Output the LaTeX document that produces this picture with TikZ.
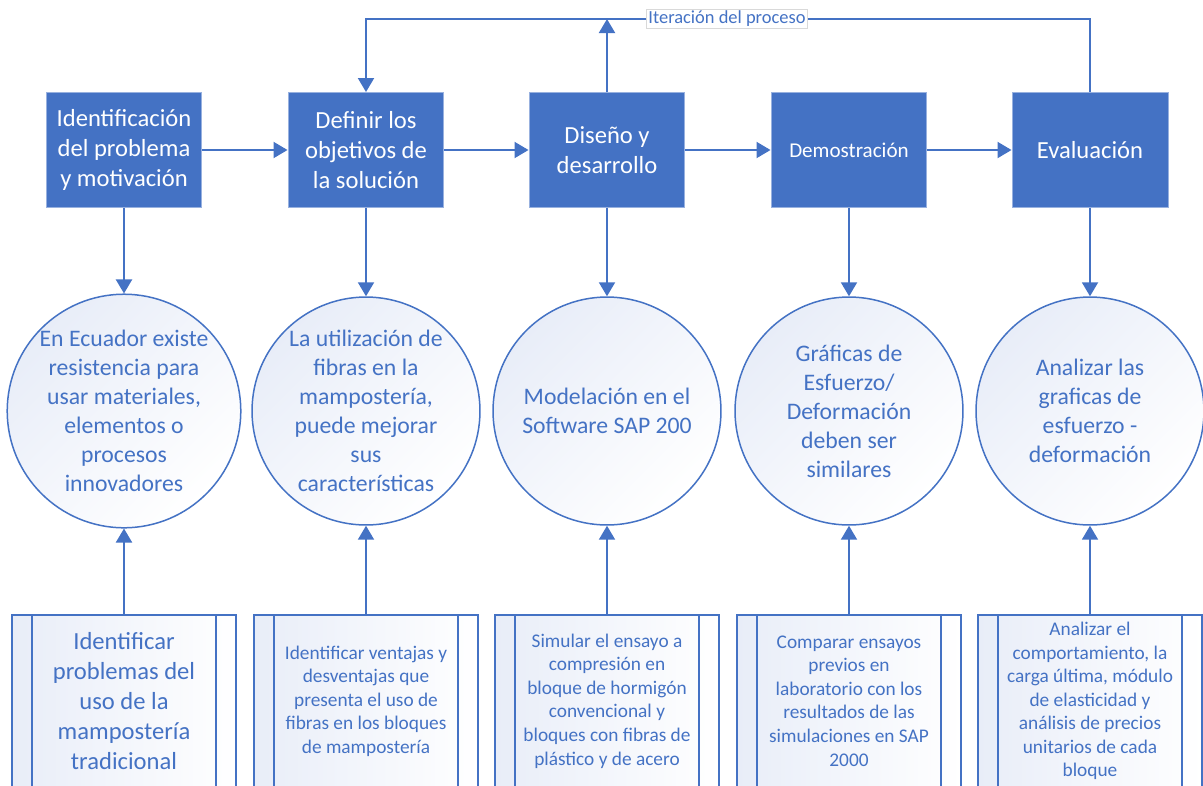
\documentclass[tikz,border=0pt]{standalone}
\usepackage{fontspec}
\setmainfont{Carlito}
\usetikzlibrary{arrows.meta,calc}
\definecolor{azul}{HTML}{4472C4}
\definecolor{azulclaro}{HTML}{E8EDF8}

\tikzset{
    linea/.style={draw=azul, line width=0.04cm},
    flecha/.style={linea, -{Triangle[length=0.28cm, width=0.32cm]}},
    paso/.style={draw=azul!55!white, line width=0.02cm, fill=azul, rectangle, minimum width=3.12cm, minimum height=2.3cm, text=white, align=center, font=\fontsize{14}{17}\selectfont},
    meta/.style={draw=azul, line width=0.03cm, circle, minimum size=4.56cm, inner sep=0pt, top color=azulclaro, bottom color=white, shading angle=45, text=azul, align=center, font=\fontsize{13.5}{16.5}\selectfont},
    tarea/.style={linea, rectangle, minimum width=4.5cm, minimum height=3.44cm, inner sep=0pt, left color=azulclaro, right color=white, text=azul, align=center, font=\fontsize{11}{13.4}\selectfont,
        append after command={($(\tikzlastnode.north west)+(0.42cm,0)$) edge[linea] ($(\tikzlastnode.south west)+(0.42cm,0)$)
            ($(\tikzlastnode.north east)+(-0.42cm,0)$) edge[linea] ($(\tikzlastnode.south east)+(-0.42cm,0)$)}},
    iteracion/.style={draw=black!15, fill=white, text=azul, inner sep=1pt, font=\fontsize{10.5}{12}\selectfont}
}

\begin{document}
\begin{tikzpicture}[x=0.02cm, y=-0.02cm]
    \clip (0,0) rectangle (1203,785);

    %% pasos
    \node[paso] (p1) at (124,150) {Identificación\\del problema\\y motivación};
    \node[paso] (p2) at (366,150) {Definir los\\objetivos de\\la solución};
    \node[paso] (p3) at (607,150) {Diseño y\\desarrollo};
    \node[paso, font=\fontsize{12}{14}\selectfont] (p4) at (849,150) {Demostración};
    \node[paso] (p5) at (1090,150) {Evaluación};

    %% metas
    \node[meta] (c1) at (124,411) {En Ecuador existe\\resistencia para\\usar materiales,\\elementos o\\procesos\\innovadores};
    \node[meta] (c2) at (366,411) {La utilización de\\fibras en la\\mampostería,\\puede mejorar\\sus\\características};
    \node[meta] (c3) at (607,411) {Modelación en el\\Software SAP 200};
    \node[meta] (c4) at (849,411) {Gráficas de\\Esfuerzo/\\Deformación\\deben ser\\similares};
    \node[meta] (c5) at (1090,411) {Analizar las\\graficas de\\esfuerzo -\\deformación};

    %% tareas
    \node[tarea, font=\fontsize{14}{17}\selectfont] (b1) at (124,701) {Identificar\\problemas del\\uso de la\\mampostería\\tradicional};
    \node[tarea] (b2) at (366,701) {Identificar ventajas y\\desventajas que\\presenta el uso de\\fibras en los bloques\\de mampostería};
    \node[tarea] (b3) at (607,701) {Simular el ensayo a\\compresión en\\bloque de hormigón\\convencional y\\bloques con fibras de\\plástico y de acero};
    \node[tarea] (b4) at (849,701) {Comparar ensayos\\previos en\\laboratorio con los\\resultados de las\\simulaciones en SAP\\2000};
    \node[tarea] (b5) at (1090,701) {Analizar el\\comportamiento, la\\carga última, módulo\\de elasticidad y\\análisis de precios\\unitarios de cada\\bloque};

    \node[iteracion] (iter) at (727,19) {Iteración del proceso};

    %% conexiones
    \draw[flecha] (p1) -- (p2);
    \draw[flecha] (p2) -- (p3);
    \draw[flecha] (p3) -- (p4);
    \draw[flecha] (p4) -- (p5);

    \draw[flecha] (p1) -- (c1);
    \draw[flecha] (p2) -- (c2);
    \draw[flecha] (p3) -- (c3);
    \draw[flecha] (p4) -- (c4);
    \draw[flecha] (p5) -- (c5);

    \draw[flecha] (b1) -- (c1);
    \draw[flecha] (b2) -- (c2);
    \draw[flecha] (b3) -- (c3);
    \draw[flecha] (b4) -- (c4);
    \draw[flecha] (b5) -- (c5);

    \draw[linea] (p5.north) |- (iter.east);
    \draw[flecha] (iter.west) -| (p2.north);
    \draw[flecha] (p3.north) -- (p3.north |- iter.west);
\end{tikzpicture}
\end{document}
